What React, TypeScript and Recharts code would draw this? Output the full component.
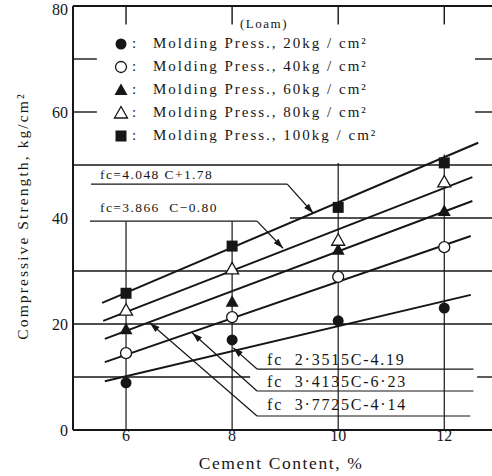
import React from "react";
import {
  ComposedChart,
  XAxis,
  YAxis,
  Line,
  Scatter,
  ReferenceLine,
  ReferenceDot,
  Label,
} from "recharts";

const INK = "#161616";
const FONT = "'Liberation Serif', 'DejaVu Serif', serif";

// measured points, cement content (%) vs compressive strength (kg/cm2)
const cementContent = [6, 8, 10, 12];
const press20 = [8.9, 17.0, 20.6, 23.0];
const press40 = [14.5, 21.3, 28.9, 34.5];
const press60 = [19.0, 24.2, 34.0, 41.3];
const press80 = [22.6, 30.4, 35.8, 46.8];
const press100 = [25.8, 34.7, 42.0, 50.4];

// fitted lines, read at their drawn ends
const fit20X = [5.6, 12.5];
const fit20Y = [9.2, 25.5];
const fit40X = [5.6, 12.5];
const fit40Y = [12.8, 36.6];
const fit60X = [5.6, 12.53];
const fit60Y = [17.2, 43.2];
const fit80X = [5.57, 12.53];
const fit80Y = [20.6, 47.7];
const fit100X = [5.55, 12.64];
const fit100Y = [24.0, 54.2];

const legendLabels = [
  "Molding Press., 20kg / cm²",
  "Molding Press., 40kg / cm²",
  "Molding Press., 60kg / cm²",
  "Molding Press., 80kg / cm²",
  "Molding Press., 100kg / cm²",
];
const markerKinds = ["dot", "ring", "tri", "openTri", "square"];

const toPoints = (xs: number[], ys: number[]) => xs.map((x, i) => ({ x, y: ys[i] }));

function Marker({ kind, cx, cy }: { kind: string; cx: number; cy: number }) {
  if (kind === "dot") return <circle cx={cx} cy={cy} r={5.5} fill={INK} />;
  if (kind === "ring")
    return <circle cx={cx} cy={cy} r={5.5} fill="#fff" stroke={INK} strokeWidth={1.3} />;
  if (kind === "square")
    return <rect x={cx - 5.5} y={cy - 5.5} width={11} height={11} fill={INK} />;
  const pts = `${cx},${cy - 6.5} ${cx + 6.5},${cy + 5} ${cx - 6.5},${cy + 5}`;
  if (kind === "tri") return <polygon points={pts} fill={INK} />;
  return <polygon points={pts} fill="#fff" stroke={INK} strokeWidth={1.3} />;
}

function Arrow(p: any) {
  const { x1, y1, x2, y2 } = p;
  const a = Math.atan2(y2 - y1, x2 - x1);
  const L = 10;
  const W = 3.2;
  const bx = x2 - L * Math.cos(a);
  const by = y2 - L * Math.sin(a);
  const nx = -Math.sin(a) * W;
  const ny = Math.cos(a) * W;
  return (
    <g>
      <line x1={x1} y1={y1} x2={x2} y2={y2} stroke={INK} strokeWidth={1.2} />
      <polygon points={`${x2},${y2} ${bx + nx},${by + ny} ${bx - nx},${by - ny}`} fill={INK} />
    </g>
  );
}

const seg = (x1: number, y1: number, x2: number, y2: number, w = 1.4, key?: string) => (
  <ReferenceLine
    key={key ?? `${x1}-${y1}-${x2}-${y2}`}
    segment={[{ x: x1, y: y1 }, { x: x2, y: y2 }]}
    stroke={INK}
    strokeWidth={w}
    ifOverflow="visible"
  />
);

const leader = (x1: number, y1: number, x2: number, y2: number) => (
  <ReferenceLine
    key={`a-${x1}-${y1}`}
    segment={[{ x: x1, y: y1 }, { x: x2, y: y2 }]}
    shape={Arrow}
    ifOverflow="visible"
  />
);

const note = (x: number, y: number, text: string, size = 14, spacing = 1.2) => (
  <ReferenceDot
    key={text}
    x={x}
    y={y}
    r={0}
    ifOverflow="visible"
    shape={(p: any) => (
      <text
        x={p.cx}
        y={p.cy}
        fill={INK}
        fontFamily={FONT}
        fontSize={size}
        letterSpacing={spacing}
        style={{ whiteSpace: "pre" }}
      >
        {text}
      </text>
    )}
  />
);

function LegendBox() {
  return (
    <div style={{ position: "absolute", left: 112, top: 32, fontFamily: FONT, color: INK }}>
      <div style={{ position: "absolute", left: 128, top: -16, fontSize: 13, letterSpacing: 1.5 }}>
        (Loam)
      </div>
      {legendLabels.map((t, i) => (
        <div key={t} style={{ display: "flex", alignItems: "center", height: 23 }}>
          <svg width={18} height={18} style={{ overflow: "visible" }}>
            <Marker kind={markerKinds[i]} cx={9} cy={9} />
          </svg>
          <span style={{ fontSize: 15, width: 21, paddingLeft: 2 }}>:</span>
          <span style={{ fontSize: 15, letterSpacing: 2, whiteSpace: "nowrap" }}>{t}</span>
        </div>
      ))}
    </div>
  );
}

export default function App() {
  const series = [press20, press40, press60, press80, press100];
  const fits = [
    [fit20X, fit20Y],
    [fit40X, fit40Y],
    [fit60X, fit60Y],
    [fit80X, fit80Y],
    [fit100X, fit100Y],
  ];

  return (
    <div style={{ position: "absolute", left: 0, top: 0, width: 492, height: 476, background: "#fff" }}>
      <ComposedChart width={492} height={476} margin={{ top: 6, right: 0, bottom: 16, left: 13 }}>
        <XAxis
          type="number"
          dataKey="x"
          domain={[5, 12.9]}
          ticks={[6, 8, 10, 12]}
          tickLine={false}
          tickSize={0}
          tickMargin={0}
          axisLine={{ stroke: INK, strokeWidth: 2.2 }}
          tick={{ fill: INK, fontFamily: FONT, fontSize: 16 }}
          height={30}
        >
          <Label
            content={() => (
              <text x={281} y={469} textAnchor="middle" fill={INK} fontFamily={FONT} fontSize={17.5} letterSpacing={1.6}>
                Cement Content, %
              </text>
            )}
          />
        </XAxis>
        <YAxis
          type="number"
          domain={[0, 80]}
          ticks={[0, 20, 40, 60, 80]}
          tickLine={false}
          tickSize={0}
          tickMargin={5}
          axisLine={{ stroke: INK, strokeWidth: 2 }}
          tick={{ fill: INK, fontFamily: FONT, fontSize: 16 }}
          width={60}
        >
          <Label
            content={() => (
              <text
                x={22}
                y={216}
                transform="rotate(-90 22 216)"
                textAnchor="middle"
                dominantBaseline="central"
                fill={INK}
                fontFamily={FONT}
                fontSize={15.5}
                letterSpacing={2.1}
              >
                Compressive Strength, kg/cm²
              </text>
            )}
          />
        </YAxis>

        {/* frame and partial grid */}
        {seg(5, 80, 12.9, 80, 1.8)}
        {seg(5, 10, 8.34, 10)}
        {seg(12.62, 10, 12.9, 10)}
        {seg(5, 20, 12.9, 20)}
        {seg(5, 30, 12.9, 30)}
        {seg(9.09, 40, 12.9, 40)}
        {seg(5, 50, 12.9, 50)}
        {seg(5, 60, 5.45, 60)}
        {seg(12.58, 60, 12.9, 60)}
        {seg(5, 70, 5.45, 70)}
        {seg(12.58, 70, 12.9, 70)}
        {cementContent.map((c) => seg(c, 80, c, 76.5, 1.4, `t${c}`))}
        {seg(6, 0, 6, 39.4, 1.2)}
        {seg(8, 0, 8, 39.4, 1.2)}
        {seg(10, 0, 10, 50.4, 1.2)}
        {seg(12, 0, 12, 52, 1.2)}

        {/* equation leaders */}
        {seg(5.34, 46.4, 9.04, 46.4, 1.2)}
        {leader(9.04, 46.4, 9.53, 40.9)}
        {seg(5.32, 39.4, 8.47, 39.4, 1.2)}
        {leader(8.47, 39.4, 8.96, 34.3)}
        {seg(8.47, 11.5, 12.55, 11.5, 1.2)}
        {leader(8.47, 11.5, 8.02, 15.5)}
        {seg(8.47, 7.36, 12.55, 7.36, 1.2)}
        {leader(8.47, 7.36, 7.25, 18.3)}
        {seg(8.47, 2.64, 12.49, 2.64, 1.2)}
        {leader(8.47, 2.64, 6.45, 20.2)}

        {note(5.51, 47.3, "fc=4.048 C+1.78", 13.5, 1.4)}
        {note(5.51, 41.2, "fc=3.866  C−0.80", 13.5, 1.4)}
        {note(8.66, 12.3, "fc  2·3515C-4.19", 16, 1.8)}
        {note(8.66, 8.1, "fc  3·4135C-6·23", 16, 1.8)}
        {note(8.66, 3.8, "fc  3·7725C-4·14", 16, 1.8)}

        {fits.map(([xs, ys], i) => (
          <Line
            key={`fit${i}`}
            data={toPoints(xs, ys)}
            dataKey="y"
            stroke={INK}
            strokeWidth={2}
            dot={false}
            activeDot={false}
            isAnimationActive={false}
            legendType="none"
          />
        ))}
        {series.map((vals, i) => (
          <Scatter
            key={`s${i}`}
            data={toPoints(cementContent, vals)}
            dataKey="y"
            isAnimationActive={false}
            legendType="none"
            shape={(p: any) => <Marker kind={markerKinds[i]} cx={p.cx} cy={p.cy} />}
          />
        ))}
      </ComposedChart>
      <LegendBox />
    </div>
  );
}
